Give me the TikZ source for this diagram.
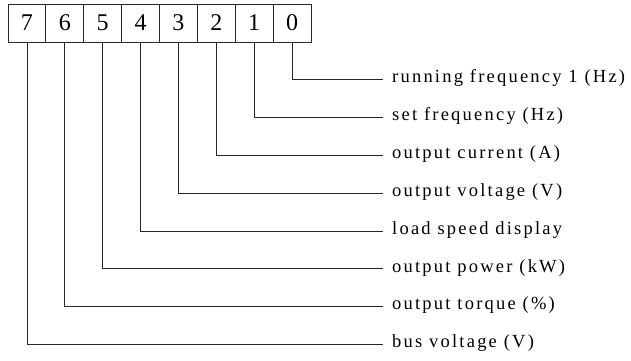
\documentclass[tikz,border=0pt]{standalone}
\usepackage{fontspec}
\setmainfont{Liberation Serif}[LetterSpace=12]
\newfontfamily\digitfont{Liberation Serif}
\usetikzlibrary{positioning}
\definecolor{wiregray}{RGB}{40,40,40}

\begin{document}
\begin{tikzpicture}[x=1pt,y=-1pt,
    bitbox/.style={draw=wiregray,line width=0.8pt,minimum width=37.875pt,
                   minimum height=38pt,inner sep=0pt,font=\digitfont\fontsize{24}{24}\selectfont},
    bitlabel/.style={anchor=west,inner xsep=9pt,inner ysep=0pt,
                     text height=0.75em,text depth=0.11em,
                     font=\fontsize{18.5}{19}\selectfont},
    wire/.style={draw=wiregray,line width=0.8pt}]
    \useasboundingbox (0,0) rectangle (631,360);
    % register bits, 7 on the left
    \foreach \i in {0,...,7}
      \node[bitbox] (bit\i) at ({26.94+37.875*(7-\i)},23) {\i};
    % one label per bit, stepping down
    \foreach \i/\txt in {0/running frequency 1 (Hz),1/set frequency (Hz),
                         2/output current (A),3/output voltage (V),
                         4/load speed display,5/output power (kW),
                         6/output torque (\%),7/bus voltage (V)}
    {
      \node[bitlabel] (lbl\i) at (383,{79.3+37.9*\i}) {\txt};
      \draw[wire] (bit\i.south) |- (lbl\i.west);
    }
\end{tikzpicture}
\end{document}
